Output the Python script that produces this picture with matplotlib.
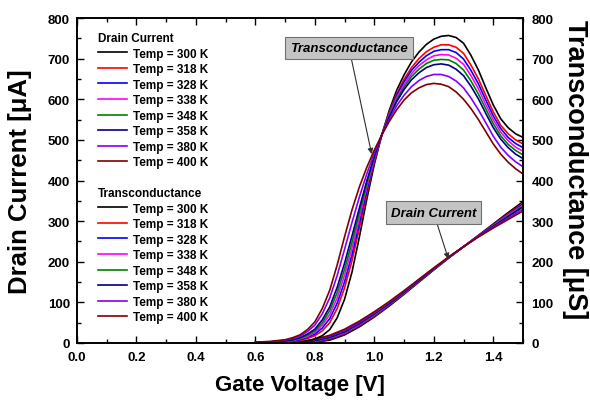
import matplotlib
matplotlib.use("Agg")
import matplotlib.pyplot as plt
from matplotlib.ticker import MultipleLocator

plt.rcParams['font.family'] = ['Liberation Sans', 'DejaVu Sans']
plt.rcParams['font.weight'] = 'bold'

# ---- data ----
temps = [300, 318, 328, 338, 348, 358, 380, 400]
colors = ['#000000', '#ff0000', '#0000ff', '#ff00ff', '#008000', '#000080', '#8000ff', '#800000']

# drain current [uA] (monotonic curves)
id_voltage = [0.50, 0.55, 0.60, 0.65, 0.70, 0.75, 0.80, 0.85, 0.90, 0.95, 1.00,
              1.05, 1.10, 1.15, 1.20, 1.25, 1.30, 1.35, 1.40, 1.45, 1.50]
id_300 = [0, 0, 0, 0, 0, 0, 2, 7, 20, 40, 64, 91, 120, 150, 180, 209, 237, 265, 293, 321, 348]
id_318 = [0, 0, 0, 0, 0, 1, 3, 9, 23, 43, 66, 93, 122, 151, 181, 210, 237, 264, 291, 318, 344]
id_328 = [0, 0, 0, 0, 0, 1, 4, 10, 24, 44, 68, 94, 123, 152, 181, 210, 237, 264, 290, 316, 342]
id_338 = [0, 0, 0, 0, 0, 1, 5, 12, 25, 45, 69, 95, 123, 153, 182, 210, 237, 264, 289, 315, 339]
id_348 = [0, 0, 0, 0, 0, 1, 5, 13, 27, 47, 70, 96, 124, 153, 182, 210, 237, 263, 288, 313, 337]
id_358 = [0, 0, 0, 0, 1, 2, 6, 14, 28, 48, 72, 97, 125, 154, 183, 211, 237, 263, 287, 311, 335]
id_380 = [0, 0, 0, 0, 1, 2, 8, 17, 31, 51, 74, 100, 127, 156, 184, 211, 237, 262, 285, 307, 330]
id_400 = [0, 0, 0, 0, 1, 3, 9, 19, 34, 54, 77, 102, 129, 157, 185, 212, 237, 261, 283, 304, 325]

# transconductance [uS] (bell curves)
gm_voltage = [0.600, 0.625, 0.650, 0.675, 0.700, 0.725, 0.750, 0.775, 0.800, 0.825,
              0.850, 0.875, 0.900, 0.925, 0.950, 0.975, 1.000, 1.025, 1.050, 1.075,
              1.100, 1.125, 1.150, 1.175, 1.200, 1.225, 1.250, 1.275, 1.300, 1.325,
              1.350, 1.375, 1.400, 1.425, 1.450, 1.475, 1.500]
gm_300 = [0, 0, 0, 1, 1, 2, 3, 6, 10, 18, 33, 62, 108, 175, 262, 355, 440, 512, 572, 622,
          660, 692, 716, 735, 748, 755, 757, 752, 738, 708, 672, 628, 586, 552, 530, 515, 506]
gm_318 = [0, 1, 1, 2, 2, 4, 6, 11, 18, 30, 50, 85, 136, 203, 284, 369, 446, 512, 567, 613,
          649, 678, 700, 717, 728, 734, 734, 728, 713, 684, 650, 609, 569, 536, 515, 500, 490]
gm_328 = [1, 1, 1, 2, 3, 5, 8, 14, 22, 37, 60, 98, 151, 218, 296, 377, 450, 512, 564, 609,
          643, 671, 691, 707, 718, 722, 722, 715, 699, 671, 638, 598, 559, 528, 506, 491, 481]
gm_338 = [1, 1, 2, 3, 4, 6, 10, 16, 26, 44, 70, 111, 167, 233, 309, 385, 453, 512, 562, 604,
          636, 663, 683, 697, 707, 710, 709, 701, 686, 658, 626, 587, 550, 519, 498, 482, 472]
gm_348 = [1, 1, 2, 3, 4, 7, 11, 19, 30, 50, 80, 124, 182, 248, 321, 392, 457, 512, 559, 599,
          630, 656, 674, 688, 696, 698, 697, 688, 672, 645, 613, 576, 540, 510, 489, 474, 463]
gm_358 = [1, 2, 2, 4, 5, 8, 13, 22, 34, 57, 89, 137, 197, 264, 333, 400, 460, 512, 556, 594,
          624, 648, 665, 678, 685, 687, 684, 674, 658, 632, 601, 565, 530, 502, 481, 465, 454]
gm_380 = [2, 2, 3, 5, 7, 11, 17, 28, 44, 72, 111, 166, 231, 297, 360, 417, 468, 512, 550, 584,
          610, 631, 646, 656, 661, 661, 656, 645, 628, 603, 574, 542, 509, 482, 462, 446, 434]
gm_400 = [2, 3, 4, 6, 8, 13, 20, 33, 52, 85, 130, 192, 262, 328, 385, 433, 475, 512, 545, 574,
          598, 616, 628, 636, 639, 637, 631, 618, 600, 577, 550, 520, 490, 465, 445, 429, 416]

drain_series = [id_300, id_318, id_328, id_338, id_348, id_358, id_380, id_400]
gm_series = [gm_300, gm_318, gm_328, gm_338, gm_348, gm_358, gm_380, gm_400]

x_ticks = [0.0, 0.2, 0.4, 0.6, 0.8, 1.0, 1.2, 1.4]
y_ticks = [0, 100, 200, 300, 400, 500, 600, 700, 800]

# ---- figure ----
fig = plt.figure(figsize=(5.9, 4.06), dpi=100)
ax = fig.add_axes([77/590, 62/406, 446/590, 325/406])
ax2 = ax.twinx()

drain_lines = []
gm_lines = []
for s, c, t in zip(drain_series, colors, temps):
    ln, = ax.plot(id_voltage, s, color=c, lw=1.2, label=f'Temp = {t} K')
    drain_lines.append(ln)
for s, c, t in zip(gm_series, colors, temps):
    ln, = ax2.plot(gm_voltage, s, color=c, lw=1.2, label=f'Temp = {t} K')
    gm_lines.append(ln)

for a in (ax, ax2):
    a.set_xlim(0, 1.5)
    a.set_ylim(0, 800)
    a.set_yticks(y_ticks)
    a.yaxis.set_minor_locator(MultipleLocator(50))
ax.set_xticks(x_ticks)
ax.set_xticklabels([f'{v:.1f}' for v in x_ticks])
ax.xaxis.set_minor_locator(MultipleLocator(0.1))

ax.tick_params(which='both', direction='in', top=True, right=False, labelsize=9.5, width=1.0)
ax.tick_params(which='major', length=5)
ax.tick_params(which='minor', length=3)
ax.tick_params(axis='x', which='major', pad=6)
ax.tick_params(axis='y', which='major', pad=5)
ax2.tick_params(which='both', direction='in', labelsize=9.5, width=1.0)
ax2.tick_params(which='major', length=5, pad=6)
ax2.tick_params(which='minor', length=3)
for lab in ax.get_xticklabels() + ax.get_yticklabels() + ax2.get_yticklabels():
    lab.set_fontweight('bold')
for sp in ax.spines.values():
    sp.set_linewidth(1.2)
for sp in ax2.spines.values():
    sp.set_linewidth(1.2)

ax.set_xlabel('Gate Voltage [V]', fontsize=16, fontweight='bold')
ax.set_ylabel('Drain Current [\u03bcA]', fontsize=18.5, fontweight='bold')
ax2.set_ylabel('Transconductance [\u03bcS]', fontsize=19.5, fontweight='bold', rotation=-90)
ax.xaxis.set_label_coords(0.5, -0.095)
ax.yaxis.set_label_coords(-0.10, 0.5)
ax2.yaxis.set_label_coords(1.146, 0.535)

# legends
leg_kw = dict(loc='upper left', frameon=False, fontsize=8.5, handlelength=2.45,
              handletextpad=0.55, labelspacing=0.30, borderpad=0, borderaxespad=0,
              alignment='left', title_fontsize=8.5)
leg1 = ax2.legend(handles=drain_lines, title='Drain Current',
                  bbox_to_anchor=(98/590, 1 - 33/406), bbox_transform=fig.transFigure, **leg_kw)
leg1.get_title().set_fontweight('bold')
ax2.add_artist(leg1)
leg2 = ax2.legend(handles=gm_lines, title='Transconductance',
                  bbox_to_anchor=(98/590, 1 - 188/406), bbox_transform=fig.transFigure, **leg_kw)
leg2.get_title().set_fontweight('bold')

# annotations
box = dict(boxstyle='square,pad=0.4', fc='#c4c4c4', ec='#707070', lw=0.8)
arr = dict(arrowstyle='-|>', color='#303030', lw=0.8, mutation_scale=8, shrinkA=0, shrinkB=0)
ax2.annotate('Transconductance', xy=(0.991, 465), xytext=(0.915, 726),
             fontsize=9.5, fontweight='bold', fontstyle='italic', ha='center', va='center',
             bbox=box, arrowprops=arr)
ax2.annotate('Drain Current', xy=(1.249, 207), xytext=(1.199, 321),
             fontsize=9.5, fontweight='bold', fontstyle='italic', ha='center', va='center',
             bbox=box, arrowprops=arr)

fig.savefig('out.png', dpi=100)
